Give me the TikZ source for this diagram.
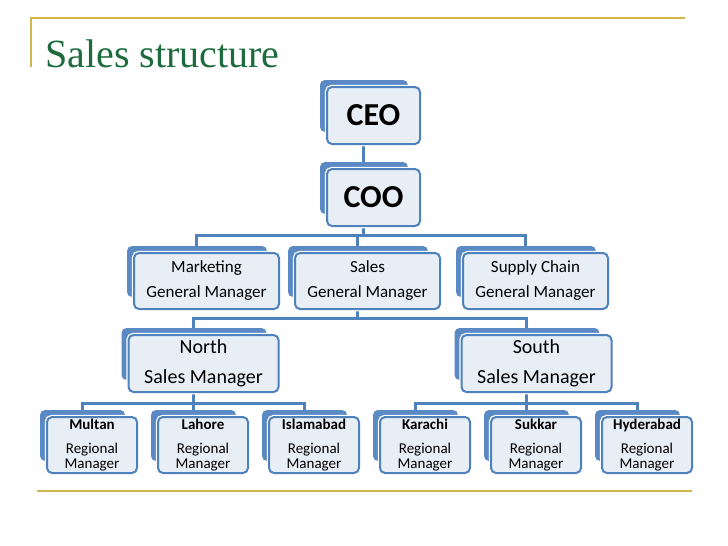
\documentclass[tikz,border=0pt]{standalone}
\usepackage{fontspec}
\setmainfont{Carlito}
\newfontfamily\titlefont{Liberation Serif}
\usepackage{tikz}
\usetikzlibrary{positioning,backgrounds}
\definecolor{boxblue}{HTML}{4F81BD}
\definecolor{backblue}{HTML}{5A89C4}
\definecolor{lightfill}{HTML}{E8EEF6}
\definecolor{gold}{HTML}{D2B64C}
\definecolor{titlegreen}{HTML}{1E6B3E}

\begin{document}
\begin{tikzpicture}[x=1pt,y=-1pt,node distance=21pt,
 fr/.style={draw=boxblue,line width=2pt,rounded corners=5pt,fill=lightfill,align=center,inner sep=0pt,outer sep=0pt,preaction={draw=white,line width=4.5pt}},
 chief/.style={fr,minimum width=93pt,minimum height=57pt,font=\fontsize{32}{32}\selectfont\bfseries},
 gm/.style={fr,minimum width=145pt,minimum height=56pt,font=\fontsize{17}{25}\selectfont},
 sm/.style={fr,minimum width=150pt,minimum height=57pt,font=\fontsize{20}{30}\selectfont},
 rm/.style={fr,minimum width=90pt,minimum height=56pt,font=\fontsize{15}{15}\selectfont},
 ln/.style={draw=boxblue,line width=3pt}]
\useasboundingbox (0,0) rectangle (728,546);
% title and frame
\draw[gold,line width=2.5pt] (31,67) |- (685,18);
\draw[gold,line width=2.5pt] (37,491) -- (692,491);
\node[font=\titlefont\fontsize{40}{40}\selectfont,text=titlegreen,anchor=base west,inner sep=0pt] (title) at (45,67) {Sales structure};
% boxes
\node[chief] (ceo) at (373.5,115.5) {CEO};
\node[chief,below=25pt of ceo] (coo) {COO};
\node[gm] (sales) at (367.5,281) {Sales\\ General Manager};
\node[gm,left=16pt of sales] (mkt) {Marketing\\ General Manager};
\node[gm,right=23pt of sales] (supply) {Supply Chain\\ General Manager};
\node[sm] (north) at (203.5,363.5) {North\\ Sales Manager};
\node[sm] (south) at (536.5,363.5) {South\\ Sales Manager};
\node[rm] (multan) at (92,445) {\textbf{Multan}\\[9pt] Regional\\ Manager};
\node[rm,right=of multan] (lahore) {\textbf{Lahore}\\[9pt] Regional\\ Manager};
\node[rm,right=of lahore] (isb) {\textbf{Islamabad}\\[9pt] Regional\\ Manager};
\node[rm,right=of isb] (karachi) {\textbf{Karachi}\\[9pt] Regional\\ Manager};
\node[rm,right=of karachi] (sukkar) {\textbf{Sukkar}\\[9pt] Regional\\ Manager};
\node[rm,right=of sukkar] (hyd) {\textbf{Hyderabad}\\[9pt] Regional\\ Manager};
\begin{scope}[on background layer]
% connectors
\draw[ln] ([xshift=-10pt]ceo.south) -- ([xshift=-10pt]coo.north);
\draw[ln] ([xshift=-10pt]coo.south) -- ++(0,9) coordinate (gmbus);
\foreach \n in {mkt,sales,supply} \draw[ln] (gmbus) -| ([xshift=-10pt]\n.north);
\draw[ln] ([xshift=-10pt]sales.south) -- ++(0,9) coordinate (smbus);
\foreach \n in {north,south} \draw[ln] (smbus) -| ([xshift=-10pt]\n.north);
\draw[ln] ([xshift=-10pt]north.south) -- ++(0,11) coordinate (nbus);
\foreach \n in {multan,lahore,isb} \draw[ln] (nbus) -| ([xshift=-10pt]\n.north);
\draw[ln] ([xshift=-10pt]south.south) -- ++(0,11) coordinate (sbus);
\foreach \n in {karachi,sukkar,hyd} \draw[ln] (sbus) -| ([xshift=-10pt]\n.north);
% blue backs
\foreach \n in {ceo,coo,mkt,sales,supply,north,south,multan,lahore,isb,karachi,sukkar,hyd}
 \fill[backblue,rounded corners=5pt] ([shift={(-7,-7)}]\n.north west) rectangle ([shift={(-12,-12)}]\n.south east);
\end{scope}
\end{tikzpicture}
\end{document}
